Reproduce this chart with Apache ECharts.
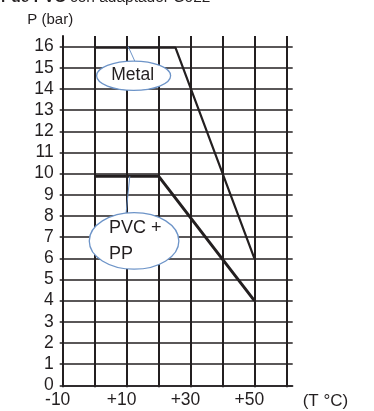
<!DOCTYPE html>
<html><head><meta charset="utf-8">
<script src="https://cdn.jsdelivr.net/npm/echarts@6/dist/echarts.min.js"></script>
<style>html,body{margin:0;padding:0;background:#fff}#c{width:374px;height:411px}</style>
</head><body><div id="c"></div>
<script>
// ---- data ----
const xGridValues = [-10, 0, 10, 20, 30, 40, 50, 60];
const xLabelValues = [-10, 10, 30, 50];
const yGridValues = [0, 1, 2, 3, 4, 5, 6, 7, 8, 9, 10, 11, 12, 13, 14, 15, 16];
const metalT = [0, 25.3, 50];
const metalP = [15.95, 15.95, 6];
const pvcT = [0, 20, 50];
const pvcP = [9.88, 9.88, 4];
const seriesNames = ['Metal', 'PVC + PP'];
const calloutTexts = ['Metal', 'PVC +\nPP'];
// annotation anchors in data units: [ellipse centre], [leader start on the line]
const metalCallout = [12.2, 14.62];
const metalLeader = [10.5, 16.0];
const pvcCallout = [12.34, 6.82];
const pvcLeader = [11.0, 9.87];
const titleBold = 'r de PVC';
const titleRest = ' con adaptador C022';
const yName = 'P (bar)';
const xName = '(T \u00b0C)';

const INK = '#231f20';
const BLUE = '#6d94c8';
const FONT = "'Liberation Sans', Arial, sans-serif";

const zip = (a, b) => a.map((v, i) => [v, b[i]]);

const option = {
  animation: false,
  textStyle: { fontFamily: FONT },
  grid: { left: 62.7, right: 81.3, top: 36, bottom: 25.7, containLabel: false },
  xAxis: {
    type: 'value', min: -10, max: 62, interval: 10,
    name: xName, nameLocation: 'end', nameGap: 10,
    nameTextStyle: { color: INK, fontSize: 17, fontFamily: FONT, align: 'left', verticalAlign: 'top', padding: [8, 0, 0, 0] },
    axisLine: { show: true, onZero: false, lineStyle: { color: INK, width: 1.5 } },
    axisTick: { show: true, length: 2, inside: false, customValues: xGridValues, lineStyle: { color: INK, width: 2 } },
    axisLabel: {
      customValues: xLabelValues, color: INK, fontSize: 17.5, fontFamily: FONT, margin: 6,
      padding: [0, 10, 0, 0],
      formatter: v => (v > 0 ? '+' + v : String(v))
    },
    splitLine: { show: true, lineStyle: { color: INK, width: 2 } }
  },
  yAxis: {
    type: 'value', min: 0, max: 16.5, interval: 1,
    name: yName, nameLocation: 'end', nameGap: 9,
    nameTextStyle: { color: INK, fontSize: 15, fontFamily: FONT, align: 'center', padding: [0, 25, 0, 0] },
    axisLine: { show: true, onZero: false, lineStyle: { color: INK, width: 2 } },
    axisTick: { show: true, length: 3, inside: false, customValues: yGridValues, lineStyle: { color: INK, width: 1.5 } },
    axisLabel: { customValues: yGridValues, color: INK, fontSize: 17.5, fontFamily: FONT, margin: 9 },
    splitLine: { show: true, lineStyle: { color: INK, width: 1.5 } }
  },
  series: [
    { name: seriesNames[0], type: 'line', data: zip(metalT, metalP), showSymbol: false, symbol: 'none',
      lineStyle: { color: INK, width: 2.2 }, z: 3 },
    { name: seriesNames[1], type: 'line', data: zip(pvcT, pvcP), showSymbol: false, symbol: 'none',
      lineStyle: { color: INK, width: 3 }, z: 3 }
  ]
};

const chart = echarts.init(document.getElementById('c'), null, { renderer: 'canvas' });
chart.setOption(option);

const px = p => chart.convertToPixel({ xAxisIndex: 0, yAxisIndex: 0 }, p);
const mC = px(metalCallout), mL = px(metalLeader);
const pC = px(pvcCallout), pL = px(pvcLeader);
const mR = [37, 14.6], pR = [44.8, 28.3];

chart.setOption({
  graphic: [
    { type: 'text', left: 1, top: -10, z: 20,
      style: { text: '{b|' + titleBold + '}' + titleRest, fill: INK, font: '15.5px ' + FONT,
        rich: { b: { fontWeight: 'bold', fontSize: 15.5, fontFamily: FONT, fill: INK } } } },
    { type: 'line', z: 10, shape: { x1: mL[0], y1: mL[1], x2: mC[0] + 1.2, y2: mC[1] - mR[1] },
      style: { stroke: BLUE, lineWidth: 1 } },
    { type: 'ellipse', z: 10, shape: { cx: mC[0], cy: mC[1], rx: mR[0], ry: mR[1] },
      style: { fill: '#fff', stroke: BLUE, lineWidth: 1.3 } },
    { type: 'text', z: 11, x: mC[0] - 1, y: mC[1] - 1,
      style: { text: calloutTexts[0], fill: INK, font: '17.5px ' + FONT, align: 'center', verticalAlign: 'middle' } },
    { type: 'line', z: 10, shape: { x1: pL[0], y1: pL[1], x2: pC[0] - 8, y2: pC[1] - pR[1] + 0.5 },
      style: { stroke: BLUE, lineWidth: 1 } },
    { type: 'ellipse', z: 10, shape: { cx: pC[0], cy: pC[1], rx: pR[0], ry: pR[1] },
      style: { fill: '#fff', stroke: BLUE, lineWidth: 1.3 } },
    { type: 'text', z: 11, x: pC[0] - 25, y: pC[1],
      style: { text: calloutTexts[1], fill: INK, font: '18px ' + FONT, align: 'left', verticalAlign: 'middle', lineHeight: 26 } }
  ]
});
</script>
</body></html>
